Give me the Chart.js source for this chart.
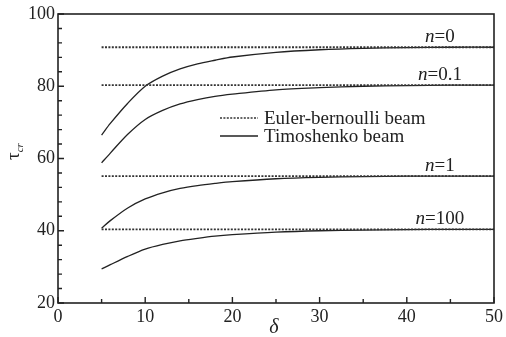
<!DOCTYPE html>
<html>
<head>
<meta charset="utf-8">
<script src="https://cdn.jsdelivr.net/npm/chart.js@4.4.1/dist/chart.umd.min.js"></script>
<style>
    html, body { margin: 0; padding: 0; background: #fff; }
    canvas { display: block; }
</style>
</head>
<body>
<canvas id="bucklingChart" width="506" height="337"></canvas>
<script>
// slenderness ratio (delta) samples
const deltaValues = [5, 6, 8, 10, 12, 14, 16, 18, 20, 25, 30, 35, 40, 45, 50];

// Timoshenko beam critical load, one list per gradient index n
const timoN0 = [66.5, 69.7, 75.3, 80.0, 82.8, 84.8, 86.2, 87.2, 88.1, 89.4, 90.1, 90.5, 90.7, 90.8, 90.8];
const timoN01 = [58.8, 61.5, 66.7, 70.8, 73.3, 75.1, 76.3, 77.2, 77.8, 79.0, 79.6, 80.0, 80.2, 80.3, 80.3];
const timoN1 = [40.7, 42.8, 46.3, 48.8, 50.5, 51.7, 52.5, 53.1, 53.6, 54.4, 54.8, 55.0, 55.1, 55.1, 55.1];
const timoN100 = [29.4, 30.6, 32.9, 34.9, 36.2, 37.2, 37.9, 38.5, 38.9, 39.6, 40.0, 40.2, 40.3, 40.4, 40.4];

// Euler-Bernoulli beam values (independent of delta)
const eulerN0 = 90.8;
const eulerN01 = 80.3;
const eulerN1 = 55.1;
const eulerN100 = 40.4;

const indexLabels = ['0', '0.1', '1', '100'];
const legendNames = ['Euler-bernoulli beam', 'Timoshenko beam'];

const SERIF = '"Liberation Serif", "DejaVu Serif", serif';
const INK = '#222';

const toPoints = (ys) => deltaValues.map((x, i) => ({ x: x, y: ys[i] }));
const flatLine = (v) => [{ x: deltaValues[0], y: v }, { x: deltaValues[deltaValues.length - 1], y: v }];

const eulerSet = (v) => ({
    data: flatLine(v),
    borderColor: '#333',
    borderWidth: 1.8,
    borderDash: [2, 1.4],
    pointRadius: 0,
    fill: false,
});

const timoSet = (ys) => ({
    data: toPoints(ys),
    borderColor: INK,
    borderWidth: 1.3,
    pointRadius: 0,
    tension: 0.3,
    fill: false,
});

const eulerLevels = [eulerN0, eulerN01, eulerN1, eulerN100];

// frame, inward ticks, curve labels, legend and axis titles
const decorations = {
    id: 'decorations',
    afterDraw(chart) {
        const { ctx, chartArea: area, scales: { x, y } } = chart;
        ctx.save();

        // box around the plot
        ctx.strokeStyle = INK;
        ctx.lineWidth = 1.6;
        ctx.strokeRect(area.left, area.top, area.right - area.left, area.bottom - area.top);

        // ticks pointing into the plot
        ctx.lineWidth = 1.4;
        ctx.beginPath();
        x.ticks.forEach((t) => {
            const px = x.getPixelForValue(t.value);
            const len = t.value % 10 === 0 ? 6 : 4;
            ctx.moveTo(px, area.bottom);
            ctx.lineTo(px, area.bottom - len);
        });
        y.ticks.forEach((t) => {
            const py = y.getPixelForValue(t.value);
            const len = t.value % 20 === 0 ? 6 : 4;
            ctx.moveTo(area.left, py);
            ctx.lineTo(area.left + len, py);
        });
        ctx.stroke();

        // n = ... labels above each Euler line
        ctx.fillStyle = INK;
        ctx.textBaseline = 'alphabetic';
        const labelX = x.getPixelForValue(43.8);
        eulerLevels.forEach((v, i) => {
            const base = y.getPixelForValue(v) - 5;
            ctx.font = 'italic 19px ' + SERIF;
            const wN = ctx.measureText('n').width;
            ctx.font = '19px ' + SERIF;
            const rest = '=' + indexLabels[i];
            const wR = ctx.measureText(rest).width;
            const start = labelX - (wN + wR) / 2;
            ctx.font = 'italic 19px ' + SERIF;
            ctx.textAlign = 'left';
            ctx.fillText('n', start, base);
            ctx.font = '19px ' + SERIF;
            ctx.fillText(rest, start + wN, base);
        });

        // legend
        const lx0 = 220, lx1 = 258, ly = [118, 136];
        ctx.strokeStyle = '#333';
        ctx.lineWidth = 1.6;
        ctx.setLineDash([2, 1.4]);
        ctx.beginPath();
        ctx.moveTo(lx0, ly[0]);
        ctx.lineTo(lx1, ly[0]);
        ctx.stroke();
        ctx.setLineDash([]);
        ctx.strokeStyle = INK;
        ctx.lineWidth = 1.3;
        ctx.beginPath();
        ctx.moveTo(lx0, ly[1]);
        ctx.lineTo(lx1, ly[1]);
        ctx.stroke();
        ctx.font = '19px ' + SERIF;
        ctx.textAlign = 'left';
        ctx.textBaseline = 'middle';
        legendNames.forEach((name, i) => ctx.fillText(name, 264, ly[i] + 1));

        // x axis title
        ctx.font = 'italic 20px ' + SERIF;
        ctx.textAlign = 'center';
        ctx.textBaseline = 'middle';
        ctx.fillText('δ', 274, 328);

        // y axis title, rotated, with subscript
        ctx.translate(14, 152);
        ctx.rotate(-Math.PI / 2);
        ctx.textAlign = 'left';
        ctx.textBaseline = 'alphabetic';
        ctx.font = '19px ' + SERIF;
        const wTau = ctx.measureText('τ').width;
        ctx.fillText('τ', -8, 5);
        ctx.font = 'italic 11px ' + SERIF;
        ctx.fillText('cr', -8 + wTau, 9);

        ctx.restore();
    },
};

const tickFont = { family: SERIF, size: 18 };

new Chart(document.getElementById('bucklingChart'), {
    type: 'line',
    data: {
        datasets: [
            eulerSet(eulerN0),
            eulerSet(eulerN01),
            eulerSet(eulerN1),
            eulerSet(eulerN100),
            timoSet(timoN0),
            timoSet(timoN01),
            timoSet(timoN1),
            timoSet(timoN100),
        ],
    },
    options: {
        responsive: false,
        animation: false,
        layout: {
            padding: { top: 14, right: 7, left: 0, bottom: 0 },
        },
        scales: {
            x: {
                type: 'linear',
                min: 0,
                max: 50,
                afterFit: (scale) => { scale.height = 34; },
                grid: { drawOnChartArea: false, drawTicks: false },
                border: { display: false },
                ticks: {
                    stepSize: 5,
                    autoSkip: false,
                    maxRotation: 0,
                    padding: 3,
                    color: INK,
                    font: tickFont,
                    callback: (v) => (v % 10 === 0 ? v : ''),
                },
            },
            y: {
                min: 20,
                max: 100,
                afterFit: (scale) => { scale.width = 58; },
                grid: { drawOnChartArea: false, drawTicks: false },
                border: { display: false },
                ticks: {
                    stepSize: 4,
                    autoSkip: false,
                    padding: 3,
                    color: INK,
                    font: tickFont,
                    callback: (v) => (v % 20 === 0 ? v : ''),
                },
            },
        },
        plugins: {
            legend: { display: false },
            tooltip: { enabled: false },
        },
    },
    plugins: [decorations],
});
</script>
</body>
</html>
